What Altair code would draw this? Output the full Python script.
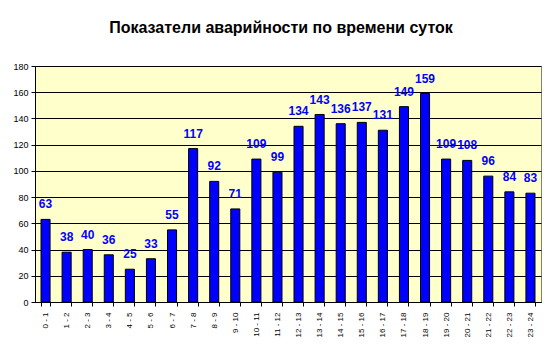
import altair as alt
import pandas as pd

hours = ["0 - 1", "1 - 2", "2 - 3", "3 - 4", "4 - 5", "5 - 6", "6 - 7", "7 - 8",
         "8 - 9", "9 - 10", "10 - 11", "11 - 12", "12 - 13", "13 - 14", "14 - 15",
         "15 - 16", "16 - 17", "17 - 18", "18 - 19", "19 - 20", "20 - 21",
         "21 - 22", "22 - 23", "23 - 24"]
values = [63, 38, 40, 36, 25, 33, 55, 117, 92, 71, 109, 99, 134, 143, 136,
          137, 131, 149, 159, 109, 108, 96, 84, 83]
y_ticks = [0, 20, 40, 60, 80, 100, 120, 140, 160, 180]

df = pd.DataFrame({"hour": hours, "value": values})

FONT = "Liberation Sans"

x = alt.X("hour:N", sort=hours, title=None,
          scale=alt.Scale(paddingInner=0.57, paddingOuter=0.285),
          axis=alt.Axis(labelAngle=-90, labelFontSize=8, labelFont=FONT,
                        labelColor="black", domainColor="black", tickColor="black",
                        tickSize=4, tickBand="extent", labelPadding=6,
                        labelAlign="right", labelBaseline="middle", grid=False))
y = alt.Y("value:Q", title=None,
          scale=alt.Scale(domain=[0, 180], nice=False),
          axis=alt.Axis(values=y_ticks, labelFontSize=9, labelFont=FONT,
                        labelColor="black", domainColor="black", tickColor="black",
                        tickSize=4, labelPadding=3, gridColor="black",
                        gridOpacity=1, gridWidth=1))

base = alt.Chart(df)
bars = base.mark_bar(color="#0000FF", stroke="black", strokeWidth=1).encode(x=x, y=y)
labels = base.mark_text(color="#0000FF", fontWeight="bold", fontSize=12, font=FONT,
                        baseline="bottom", dy=-8).encode(x=x, y=y, text="value:Q")

chart = (bars + labels).properties(
    width=506, height=236,
    autosize=alt.AutoSizeParams(type="none"),
    padding={"left": 35, "top": 66, "right": 19, "bottom": 52},
    background="white",
    title=alt.TitleParams("Показатели аварийности по времени суток", fontSize=16,
                          font=FONT, fontWeight="bold", color="black",
                          anchor="middle", offset=26, dx=-7),
).configure_view(fill="#FFFFCC", stroke="#808080", strokeWidth=1).configure_title(
    limit=600
)

chart.save("out.html", embed_options={"renderer": "svg", "actions": False})
